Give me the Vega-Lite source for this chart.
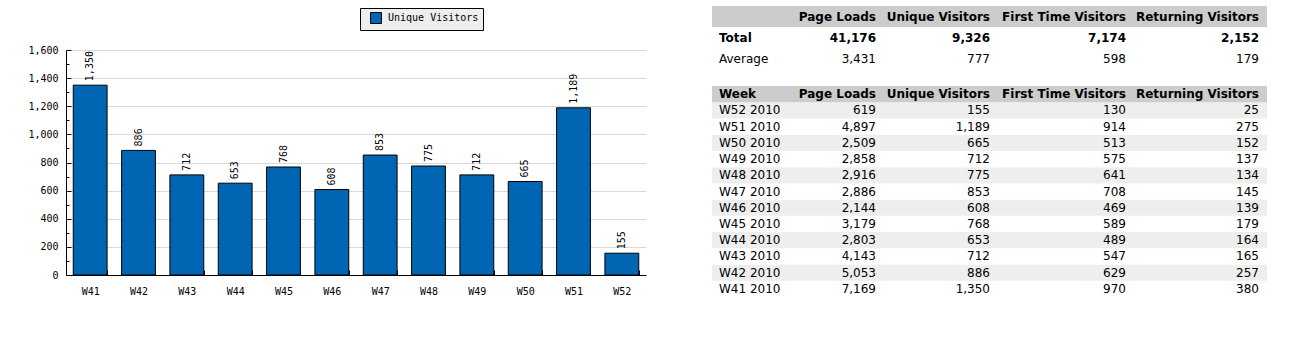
{
 "$schema": "https://vega.github.io/schema/vega-lite/v6.json",
 "padding": {"left": 27, "top": 6, "right": 0, "bottom": 0},
 "background": "#ffffff",
 "config": {"view": {"stroke": null}},
 "datasets": {
  "weeks": [
   {"wk":"W41","label":"W41 2010","idx":12,"pl":7169,"uv":1350,"ft":970,"rv":380},
   {"wk":"W42","label":"W42 2010","idx":11,"pl":5053,"uv":886,"ft":629,"rv":257},
   {"wk":"W43","label":"W43 2010","idx":10,"pl":4143,"uv":712,"ft":547,"rv":165},
   {"wk":"W44","label":"W44 2010","idx":9,"pl":2803,"uv":653,"ft":489,"rv":164},
   {"wk":"W45","label":"W45 2010","idx":8,"pl":3179,"uv":768,"ft":589,"rv":179},
   {"wk":"W46","label":"W46 2010","idx":7,"pl":2144,"uv":608,"ft":469,"rv":139},
   {"wk":"W47","label":"W47 2010","idx":6,"pl":2886,"uv":853,"ft":708,"rv":145},
   {"wk":"W48","label":"W48 2010","idx":5,"pl":2916,"uv":775,"ft":641,"rv":134},
   {"wk":"W49","label":"W49 2010","idx":4,"pl":2858,"uv":712,"ft":575,"rv":137},
   {"wk":"W50","label":"W50 2010","idx":3,"pl":2509,"uv":665,"ft":513,"rv":152},
   {"wk":"W51","label":"W51 2010","idx":2,"pl":4897,"uv":1189,"ft":914,"rv":275},
   {"wk":"W52","label":"W52 2010","idx":1,"pl":619,"uv":155,"ft":130,"rv":25}
  ],
  "summary": [
   {"label":"Total","pl":41176,"uv":9326,"ft":7174,"rv":2152},
   {"label":"Average","pl":3431,"uv":777,"ft":598,"rv":179}
  ]
 },
 "spacing": 66,
 "hconcat": [
  {
   "spacing": 0,
   "vconcat": [
    {"width": 580, "height": 39, "data": {"values": [{}]}, "mark": {"type": "text", "text": ""}, "encoding": {}},
    {
     "width": 580, "height": 225,
     "data": {"name": "weeks"},
     "encoding": {
      "x": {"field": "wk", "type": "nominal", "scale": {"paddingInner": 0.3, "paddingOuter": 0.15},
        "axis": {"title": null, "labelAngle": 0, "tickBand": "extent", "tickSize": -5, "labelPadding": 16, "labelFont": "DejaVu Sans Mono", "labelFontSize": 10, "labelColor": "#000000", "domainColor": "#000000", "tickColor": "#000000", "grid": false}},
      "y": {"field": "uv", "type": "quantitative", "scale": {"domain": [0, 1600], "nice": false},
        "axis": {"title": null, "values": [0,100,200,300,400,500,600,700,800,900,1000,1100,1200,1300,1400,1500,1600],
          "labelExpr": "datum.value % 200 === 0 ? format(datum.value, ',') : ''",
          "labelOverlap": false,
          "tickSize": {"condition": {"test": "datum.value % 200 === 0", "value": -5}, "value": -3},
          "grid": true, "gridColor": "#d9d9d9",
          "gridOpacity": {"condition": {"test": "datum.value % 200 === 0 && datum.value > 0", "value": 1}, "value": 0},
          "labelPadding": 13, "labelFont": "DejaVu Sans Mono", "labelFontSize": 10, "labelColor": "#000000", "domainColor": "#000000", "tickColor": "#000000"}}
     },
     "layer": [
      {"mark": {"type": "bar", "stroke": "#000000", "strokeWidth": 1},
       "encoding": {"color": {"datum": "Unique Visitors", "type": "nominal", "scale": {"range": ["#0066b3"]},
         "legend": {"title": null, "orient": "none", "legendX": 294, "legendY": 2, "fillColor": "#eeeeee", "strokeColor": "#000000", "padding": 4, "symbolType": "square", "symbolSize": 121, "symbolStrokeColor": "#000000", "symbolStrokeWidth": 1, "symbolOffset": 6, "labelFont": "DejaVu Sans Mono", "labelFontSize": 10, "labelColor": "#000000", "labelOffset": 6}}}},
      {"mark": {"type": "text", "angle": 270, "align": "left", "baseline": "middle", "dx": 4, "font": "DejaVu Sans Mono", "fontSize": 10, "fill": "#000000"},
       "encoding": {"text": {"field": "uv", "type": "quantitative", "format": ","}}}
     ]
    }
   ]
  },
  {
   "spacing": 17,
   "vconcat": [
    {
     "spacing": 0,
     "hconcat": [
      {"width": 78, "height": 63, "layer": [
       {"data": {"values": [{"label": "header"}]}, "mark": {"type": "rect", "fill": "#cccccc"}, "encoding": {"y": {"field": "label", "type": "nominal", "scale": {"type": "band", "domain": ["header","Total","Average"], "paddingInner": 0, "paddingOuter": 0}, "axis": null}}},
       {"data": {"name": "summary"}, "transform": [{"filter": "datum.label === 'Total'"}], "mark": {"type": "text", "font": "DejaVu Sans", "fontSize": 12, "fontWeight": "bold", "fill": "#000000", "align": "left", "baseline": "middle", "dx": 7},
        "encoding": {"y": {"field": "label", "type": "nominal", "bandPosition": 0.5, "scale": {"type": "band", "domain": ["header","Total","Average"], "paddingInner": 0, "paddingOuter": 0}, "axis": null}, "x": {"datum": "c", "type": "nominal", "scale": {"type": "point", "padding": 0, "align": 0}, "axis": null}, "text": {"field": "label"}}},
       {"data": {"name": "summary"}, "transform": [{"filter": "datum.label === 'Average'"}], "mark": {"type": "text", "font": "DejaVu Sans", "fontSize": 12, "fill": "#000000", "align": "left", "baseline": "middle", "dx": 7},
        "encoding": {"y": {"field": "label", "type": "nominal", "bandPosition": 0.5, "scale": {"type": "band", "domain": ["header","Total","Average"], "paddingInner": 0, "paddingOuter": 0}, "axis": null}, "x": {"datum": "c", "type": "nominal", "scale": {"type": "point", "padding": 0, "align": 0}, "axis": null}, "text": {"field": "label"}}}
      ]},
      {"width": 94, "height": 63, "layer": [
       {"data": {"values": [{"label": "header"}]}, "mark": {"type": "rect", "fill": "#cccccc"}, "encoding": {"y": {"field": "label", "type": "nominal", "scale": {"type": "band", "domain": ["header","Total","Average"], "paddingInner": 0, "paddingOuter": 0}, "axis": null}}},
       {"data": {"values": [{"label": "header"}]}, "mark": {"type": "text", "text": "Page Loads", "font": "DejaVu Sans", "fontSize": 12, "fontWeight": "bold", "fill": "#000000", "align": "right", "baseline": "middle", "dx": -8},
        "encoding": {"y": {"field": "label", "type": "nominal", "bandPosition": 0.5, "scale": {"type": "band", "domain": ["header","Total","Average"], "paddingInner": 0, "paddingOuter": 0}, "axis": null}, "x": {"datum": "c", "type": "nominal", "scale": {"type": "point", "padding": 0, "align": 1}, "axis": null}}},
       {"data": {"name": "summary"}, "transform": [{"filter": "datum.label === 'Total'"}], "mark": {"type": "text", "font": "DejaVu Sans", "fontSize": 12, "fontWeight": "bold", "fill": "#000000", "align": "right", "baseline": "middle", "dx": -8},
        "encoding": {"y": {"field": "label", "type": "nominal", "bandPosition": 0.5, "scale": {"type": "band", "domain": ["header","Total","Average"], "paddingInner": 0, "paddingOuter": 0}, "axis": null}, "x": {"datum": "c", "type": "nominal", "scale": {"type": "point", "padding": 0, "align": 1}, "axis": null}, "text": {"field": "pl", "type": "quantitative", "format": ","}}},
       {"data": {"name": "summary"}, "transform": [{"filter": "datum.label === 'Average'"}], "mark": {"type": "text", "font": "DejaVu Sans", "fontSize": 12, "fill": "#000000", "align": "right", "baseline": "middle", "dx": -8},
        "encoding": {"y": {"field": "label", "type": "nominal", "bandPosition": 0.5, "scale": {"type": "band", "domain": ["header","Total","Average"], "paddingInner": 0, "paddingOuter": 0}, "axis": null}, "x": {"datum": "c", "type": "nominal", "scale": {"type": "point", "padding": 0, "align": 1}, "axis": null}, "text": {"field": "pl", "type": "quantitative", "format": ","}}}
      ]},
      {"width": 114, "height": 63, "layer": [
       {"data": {"values": [{"label": "header"}]}, "mark": {"type": "rect", "fill": "#cccccc"}, "encoding": {"y": {"field": "label", "type": "nominal", "scale": {"type": "band", "domain": ["header","Total","Average"], "paddingInner": 0, "paddingOuter": 0}, "axis": null}}},
       {"data": {"values": [{"label": "header"}]}, "mark": {"type": "text", "text": "Unique Visitors", "font": "DejaVu Sans", "fontSize": 12, "fontWeight": "bold", "fill": "#000000", "align": "right", "baseline": "middle", "dx": -8},
        "encoding": {"y": {"field": "label", "type": "nominal", "bandPosition": 0.5, "scale": {"type": "band", "domain": ["header","Total","Average"], "paddingInner": 0, "paddingOuter": 0}, "axis": null}, "x": {"datum": "c", "type": "nominal", "scale": {"type": "point", "padding": 0, "align": 1}, "axis": null}}},
       {"data": {"name": "summary"}, "transform": [{"filter": "datum.label === 'Total'"}], "mark": {"type": "text", "font": "DejaVu Sans", "fontSize": 12, "fontWeight": "bold", "fill": "#000000", "align": "right", "baseline": "middle", "dx": -8},
        "encoding": {"y": {"field": "label", "type": "nominal", "bandPosition": 0.5, "scale": {"type": "band", "domain": ["header","Total","Average"], "paddingInner": 0, "paddingOuter": 0}, "axis": null}, "x": {"datum": "c", "type": "nominal", "scale": {"type": "point", "padding": 0, "align": 1}, "axis": null}, "text": {"field": "uv", "type": "quantitative", "format": ","}}},
       {"data": {"name": "summary"}, "transform": [{"filter": "datum.label === 'Average'"}], "mark": {"type": "text", "font": "DejaVu Sans", "fontSize": 12, "fill": "#000000", "align": "right", "baseline": "middle", "dx": -8},
        "encoding": {"y": {"field": "label", "type": "nominal", "bandPosition": 0.5, "scale": {"type": "band", "domain": ["header","Total","Average"], "paddingInner": 0, "paddingOuter": 0}, "axis": null}, "x": {"datum": "c", "type": "nominal", "scale": {"type": "point", "padding": 0, "align": 1}, "axis": null}, "text": {"field": "uv", "type": "quantitative", "format": ","}}}
      ]},
      {"width": 136, "height": 63, "layer": [
       {"data": {"values": [{"label": "header"}]}, "mark": {"type": "rect", "fill": "#cccccc"}, "encoding": {"y": {"field": "label", "type": "nominal", "scale": {"type": "band", "domain": ["header","Total","Average"], "paddingInner": 0, "paddingOuter": 0}, "axis": null}}},
       {"data": {"values": [{"label": "header"}]}, "mark": {"type": "text", "text": "First Time Visitors", "font": "DejaVu Sans", "fontSize": 12, "fontWeight": "bold", "fill": "#000000", "align": "right", "baseline": "middle", "dx": -8},
        "encoding": {"y": {"field": "label", "type": "nominal", "bandPosition": 0.5, "scale": {"type": "band", "domain": ["header","Total","Average"], "paddingInner": 0, "paddingOuter": 0}, "axis": null}, "x": {"datum": "c", "type": "nominal", "scale": {"type": "point", "padding": 0, "align": 1}, "axis": null}}},
       {"data": {"name": "summary"}, "transform": [{"filter": "datum.label === 'Total'"}], "mark": {"type": "text", "font": "DejaVu Sans", "fontSize": 12, "fontWeight": "bold", "fill": "#000000", "align": "right", "baseline": "middle", "dx": -8},
        "encoding": {"y": {"field": "label", "type": "nominal", "bandPosition": 0.5, "scale": {"type": "band", "domain": ["header","Total","Average"], "paddingInner": 0, "paddingOuter": 0}, "axis": null}, "x": {"datum": "c", "type": "nominal", "scale": {"type": "point", "padding": 0, "align": 1}, "axis": null}, "text": {"field": "ft", "type": "quantitative", "format": ","}}},
       {"data": {"name": "summary"}, "transform": [{"filter": "datum.label === 'Average'"}], "mark": {"type": "text", "font": "DejaVu Sans", "fontSize": 12, "fill": "#000000", "align": "right", "baseline": "middle", "dx": -8},
        "encoding": {"y": {"field": "label", "type": "nominal", "bandPosition": 0.5, "scale": {"type": "band", "domain": ["header","Total","Average"], "paddingInner": 0, "paddingOuter": 0}, "axis": null}, "x": {"datum": "c", "type": "nominal", "scale": {"type": "point", "padding": 0, "align": 1}, "axis": null}, "text": {"field": "ft", "type": "quantitative", "format": ","}}}
      ]},
      {"width": 133, "height": 63, "layer": [
       {"data": {"values": [{"label": "header"}]}, "mark": {"type": "rect", "fill": "#cccccc"}, "encoding": {"y": {"field": "label", "type": "nominal", "scale": {"type": "band", "domain": ["header","Total","Average"], "paddingInner": 0, "paddingOuter": 0}, "axis": null}}},
       {"data": {"values": [{"label": "header"}]}, "mark": {"type": "text", "text": "Returning Visitors", "font": "DejaVu Sans", "fontSize": 12, "fontWeight": "bold", "fill": "#000000", "align": "right", "baseline": "middle", "dx": -8},
        "encoding": {"y": {"field": "label", "type": "nominal", "bandPosition": 0.5, "scale": {"type": "band", "domain": ["header","Total","Average"], "paddingInner": 0, "paddingOuter": 0}, "axis": null}, "x": {"datum": "c", "type": "nominal", "scale": {"type": "point", "padding": 0, "align": 1}, "axis": null}}},
       {"data": {"name": "summary"}, "transform": [{"filter": "datum.label === 'Total'"}], "mark": {"type": "text", "font": "DejaVu Sans", "fontSize": 12, "fontWeight": "bold", "fill": "#000000", "align": "right", "baseline": "middle", "dx": -8},
        "encoding": {"y": {"field": "label", "type": "nominal", "bandPosition": 0.5, "scale": {"type": "band", "domain": ["header","Total","Average"], "paddingInner": 0, "paddingOuter": 0}, "axis": null}, "x": {"datum": "c", "type": "nominal", "scale": {"type": "point", "padding": 0, "align": 1}, "axis": null}, "text": {"field": "rv", "type": "quantitative", "format": ","}}},
       {"data": {"name": "summary"}, "transform": [{"filter": "datum.label === 'Average'"}], "mark": {"type": "text", "font": "DejaVu Sans", "fontSize": 12, "fill": "#000000", "align": "right", "baseline": "middle", "dx": -8},
        "encoding": {"y": {"field": "label", "type": "nominal", "bandPosition": 0.5, "scale": {"type": "band", "domain": ["header","Total","Average"], "paddingInner": 0, "paddingOuter": 0}, "axis": null}, "x": {"datum": "c", "type": "nominal", "scale": {"type": "point", "padding": 0, "align": 1}, "axis": null}, "text": {"field": "rv", "type": "quantitative", "format": ","}}}
      ]}
     ]
    },
    {
     "spacing": 0,
     "hconcat": [
      {"width": 78, "height": 211, "layer": [
       {"data": {"name": "weeks"}, "mark": {"type": "rect"}, "encoding": {"y": {"field": "label", "type": "nominal", "scale": {"type": "band", "domain": ["Week","W52 2010","W51 2010","W50 2010","W49 2010","W48 2010","W47 2010","W46 2010","W45 2010","W44 2010","W43 2010","W42 2010","W41 2010"], "paddingInner": 0, "paddingOuter": 0}, "axis": null}, "fill": {"condition": {"test": "datum.idx % 2 === 1", "value": "#eeeeee"}, "value": "#ffffff"}}},
       {"data": {"values": [{"label": "Week"}]}, "mark": {"type": "rect", "fill": "#cccccc"}, "encoding": {"y": {"field": "label", "type": "nominal", "scale": {"type": "band", "domain": ["Week","W52 2010","W51 2010","W50 2010","W49 2010","W48 2010","W47 2010","W46 2010","W45 2010","W44 2010","W43 2010","W42 2010","W41 2010"], "paddingInner": 0, "paddingOuter": 0}, "axis": null}}},
       {"data": {"values": [{"label": "Week"}]}, "mark": {"type": "text", "font": "DejaVu Sans", "fontSize": 12, "fontWeight": "bold", "fill": "#000000", "align": "left", "baseline": "middle", "dx": 7},
        "encoding": {"y": {"field": "label", "type": "nominal", "bandPosition": 0.5, "scale": {"type": "band", "domain": ["Week","W52 2010","W51 2010","W50 2010","W49 2010","W48 2010","W47 2010","W46 2010","W45 2010","W44 2010","W43 2010","W42 2010","W41 2010"], "paddingInner": 0, "paddingOuter": 0}, "axis": null}, "x": {"datum": "c", "type": "nominal", "scale": {"type": "point", "padding": 0, "align": 0}, "axis": null}, "text": {"field": "label"}}},
       {"data": {"name": "weeks"}, "mark": {"type": "text", "font": "DejaVu Sans", "fontSize": 12, "fill": "#000000", "align": "left", "baseline": "middle", "dx": 7},
        "encoding": {"y": {"field": "label", "type": "nominal", "bandPosition": 0.5, "scale": {"type": "band", "domain": ["Week","W52 2010","W51 2010","W50 2010","W49 2010","W48 2010","W47 2010","W46 2010","W45 2010","W44 2010","W43 2010","W42 2010","W41 2010"], "paddingInner": 0, "paddingOuter": 0}, "axis": null}, "x": {"datum": "c", "type": "nominal", "scale": {"type": "point", "padding": 0, "align": 0}, "axis": null}, "text": {"field": "label"}}}
      ]},
      {"width": 94, "height": 211, "layer": [
       {"data": {"name": "weeks"}, "mark": {"type": "rect"}, "encoding": {"y": {"field": "label", "type": "nominal", "scale": {"type": "band", "domain": ["Week","W52 2010","W51 2010","W50 2010","W49 2010","W48 2010","W47 2010","W46 2010","W45 2010","W44 2010","W43 2010","W42 2010","W41 2010"], "paddingInner": 0, "paddingOuter": 0}, "axis": null}, "fill": {"condition": {"test": "datum.idx % 2 === 1", "value": "#eeeeee"}, "value": "#ffffff"}}},
       {"data": {"values": [{"label": "Week"}]}, "mark": {"type": "rect", "fill": "#cccccc"}, "encoding": {"y": {"field": "label", "type": "nominal", "scale": {"type": "band", "domain": ["Week","W52 2010","W51 2010","W50 2010","W49 2010","W48 2010","W47 2010","W46 2010","W45 2010","W44 2010","W43 2010","W42 2010","W41 2010"], "paddingInner": 0, "paddingOuter": 0}, "axis": null}}},
       {"data": {"values": [{"label": "Week"}]}, "mark": {"type": "text", "text": "Page Loads", "font": "DejaVu Sans", "fontSize": 12, "fontWeight": "bold", "fill": "#000000", "align": "right", "baseline": "middle", "dx": -8},
        "encoding": {"y": {"field": "label", "type": "nominal", "bandPosition": 0.5, "scale": {"type": "band", "domain": ["Week","W52 2010","W51 2010","W50 2010","W49 2010","W48 2010","W47 2010","W46 2010","W45 2010","W44 2010","W43 2010","W42 2010","W41 2010"], "paddingInner": 0, "paddingOuter": 0}, "axis": null}, "x": {"datum": "c", "type": "nominal", "scale": {"type": "point", "padding": 0, "align": 1}, "axis": null}}},
       {"data": {"name": "weeks"}, "mark": {"type": "text", "font": "DejaVu Sans", "fontSize": 12, "fill": "#000000", "align": "right", "baseline": "middle", "dx": -8},
        "encoding": {"y": {"field": "label", "type": "nominal", "bandPosition": 0.5, "scale": {"type": "band", "domain": ["Week","W52 2010","W51 2010","W50 2010","W49 2010","W48 2010","W47 2010","W46 2010","W45 2010","W44 2010","W43 2010","W42 2010","W41 2010"], "paddingInner": 0, "paddingOuter": 0}, "axis": null}, "x": {"datum": "c", "type": "nominal", "scale": {"type": "point", "padding": 0, "align": 1}, "axis": null}, "text": {"field": "pl", "type": "quantitative", "format": ","}}}
      ]},
      {"width": 114, "height": 211, "layer": [
       {"data": {"name": "weeks"}, "mark": {"type": "rect"}, "encoding": {"y": {"field": "label", "type": "nominal", "scale": {"type": "band", "domain": ["Week","W52 2010","W51 2010","W50 2010","W49 2010","W48 2010","W47 2010","W46 2010","W45 2010","W44 2010","W43 2010","W42 2010","W41 2010"], "paddingInner": 0, "paddingOuter": 0}, "axis": null}, "fill": {"condition": {"test": "datum.idx % 2 === 1", "value": "#eeeeee"}, "value": "#ffffff"}}},
       {"data": {"values": [{"label": "Week"}]}, "mark": {"type": "rect", "fill": "#cccccc"}, "encoding": {"y": {"field": "label", "type": "nominal", "scale": {"type": "band", "domain": ["Week","W52 2010","W51 2010","W50 2010","W49 2010","W48 2010","W47 2010","W46 2010","W45 2010","W44 2010","W43 2010","W42 2010","W41 2010"], "paddingInner": 0, "paddingOuter": 0}, "axis": null}}},
       {"data": {"values": [{"label": "Week"}]}, "mark": {"type": "text", "text": "Unique Visitors", "font": "DejaVu Sans", "fontSize": 12, "fontWeight": "bold", "fill": "#000000", "align": "right", "baseline": "middle", "dx": -8},
        "encoding": {"y": {"field": "label", "type": "nominal", "bandPosition": 0.5, "scale": {"type": "band", "domain": ["Week","W52 2010","W51 2010","W50 2010","W49 2010","W48 2010","W47 2010","W46 2010","W45 2010","W44 2010","W43 2010","W42 2010","W41 2010"], "paddingInner": 0, "paddingOuter": 0}, "axis": null}, "x": {"datum": "c", "type": "nominal", "scale": {"type": "point", "padding": 0, "align": 1}, "axis": null}}},
       {"data": {"name": "weeks"}, "mark": {"type": "text", "font": "DejaVu Sans", "fontSize": 12, "fill": "#000000", "align": "right", "baseline": "middle", "dx": -8},
        "encoding": {"y": {"field": "label", "type": "nominal", "bandPosition": 0.5, "scale": {"type": "band", "domain": ["Week","W52 2010","W51 2010","W50 2010","W49 2010","W48 2010","W47 2010","W46 2010","W45 2010","W44 2010","W43 2010","W42 2010","W41 2010"], "paddingInner": 0, "paddingOuter": 0}, "axis": null}, "x": {"datum": "c", "type": "nominal", "scale": {"type": "point", "padding": 0, "align": 1}, "axis": null}, "text": {"field": "uv", "type": "quantitative", "format": ","}}}
      ]},
      {"width": 136, "height": 211, "layer": [
       {"data": {"name": "weeks"}, "mark": {"type": "rect"}, "encoding": {"y": {"field": "label", "type": "nominal", "scale": {"type": "band", "domain": ["Week","W52 2010","W51 2010","W50 2010","W49 2010","W48 2010","W47 2010","W46 2010","W45 2010","W44 2010","W43 2010","W42 2010","W41 2010"], "paddingInner": 0, "paddingOuter": 0}, "axis": null}, "fill": {"condition": {"test": "datum.idx % 2 === 1", "value": "#eeeeee"}, "value": "#ffffff"}}},
       {"data": {"values": [{"label": "Week"}]}, "mark": {"type": "rect", "fill": "#cccccc"}, "encoding": {"y": {"field": "label", "type": "nominal", "scale": {"type": "band", "domain": ["Week","W52 2010","W51 2010","W50 2010","W49 2010","W48 2010","W47 2010","W46 2010","W45 2010","W44 2010","W43 2010","W42 2010","W41 2010"], "paddingInner": 0, "paddingOuter": 0}, "axis": null}}},
       {"data": {"values": [{"label": "Week"}]}, "mark": {"type": "text", "text": "First Time Visitors", "font": "DejaVu Sans", "fontSize": 12, "fontWeight": "bold", "fill": "#000000", "align": "right", "baseline": "middle", "dx": -8},
        "encoding": {"y": {"field": "label", "type": "nominal", "bandPosition": 0.5, "scale": {"type": "band", "domain": ["Week","W52 2010","W51 2010","W50 2010","W49 2010","W48 2010","W47 2010","W46 2010","W45 2010","W44 2010","W43 2010","W42 2010","W41 2010"], "paddingInner": 0, "paddingOuter": 0}, "axis": null}, "x": {"datum": "c", "type": "nominal", "scale": {"type": "point", "padding": 0, "align": 1}, "axis": null}}},
       {"data": {"name": "weeks"}, "mark": {"type": "text", "font": "DejaVu Sans", "fontSize": 12, "fill": "#000000", "align": "right", "baseline": "middle", "dx": -8},
        "encoding": {"y": {"field": "label", "type": "nominal", "bandPosition": 0.5, "scale": {"type": "band", "domain": ["Week","W52 2010","W51 2010","W50 2010","W49 2010","W48 2010","W47 2010","W46 2010","W45 2010","W44 2010","W43 2010","W42 2010","W41 2010"], "paddingInner": 0, "paddingOuter": 0}, "axis": null}, "x": {"datum": "c", "type": "nominal", "scale": {"type": "point", "padding": 0, "align": 1}, "axis": null}, "text": {"field": "ft", "type": "quantitative", "format": ","}}}
      ]},
      {"width": 133, "height": 211, "layer": [
       {"data": {"name": "weeks"}, "mark": {"type": "rect"}, "encoding": {"y": {"field": "label", "type": "nominal", "scale": {"type": "band", "domain": ["Week","W52 2010","W51 2010","W50 2010","W49 2010","W48 2010","W47 2010","W46 2010","W45 2010","W44 2010","W43 2010","W42 2010","W41 2010"], "paddingInner": 0, "paddingOuter": 0}, "axis": null}, "fill": {"condition": {"test": "datum.idx % 2 === 1", "value": "#eeeeee"}, "value": "#ffffff"}}},
       {"data": {"values": [{"label": "Week"}]}, "mark": {"type": "rect", "fill": "#cccccc"}, "encoding": {"y": {"field": "label", "type": "nominal", "scale": {"type": "band", "domain": ["Week","W52 2010","W51 2010","W50 2010","W49 2010","W48 2010","W47 2010","W46 2010","W45 2010","W44 2010","W43 2010","W42 2010","W41 2010"], "paddingInner": 0, "paddingOuter": 0}, "axis": null}}},
       {"data": {"values": [{"label": "Week"}]}, "mark": {"type": "text", "text": "Returning Visitors", "font": "DejaVu Sans", "fontSize": 12, "fontWeight": "bold", "fill": "#000000", "align": "right", "baseline": "middle", "dx": -8},
        "encoding": {"y": {"field": "label", "type": "nominal", "bandPosition": 0.5, "scale": {"type": "band", "domain": ["Week","W52 2010","W51 2010","W50 2010","W49 2010","W48 2010","W47 2010","W46 2010","W45 2010","W44 2010","W43 2010","W42 2010","W41 2010"], "paddingInner": 0, "paddingOuter": 0}, "axis": null}, "x": {"datum": "c", "type": "nominal", "scale": {"type": "point", "padding": 0, "align": 1}, "axis": null}}},
       {"data": {"name": "weeks"}, "mark": {"type": "text", "font": "DejaVu Sans", "fontSize": 12, "fill": "#000000", "align": "right", "baseline": "middle", "dx": -8},
        "encoding": {"y": {"field": "label", "type": "nominal", "bandPosition": 0.5, "scale": {"type": "band", "domain": ["Week","W52 2010","W51 2010","W50 2010","W49 2010","W48 2010","W47 2010","W46 2010","W45 2010","W44 2010","W43 2010","W42 2010","W41 2010"], "paddingInner": 0, "paddingOuter": 0}, "axis": null}, "x": {"datum": "c", "type": "nominal", "scale": {"type": "point", "padding": 0, "align": 1}, "axis": null}, "text": {"field": "rv", "type": "quantitative", "format": ","}}}
      ]}
     ]
    }
   ]
  }
 ]
}
